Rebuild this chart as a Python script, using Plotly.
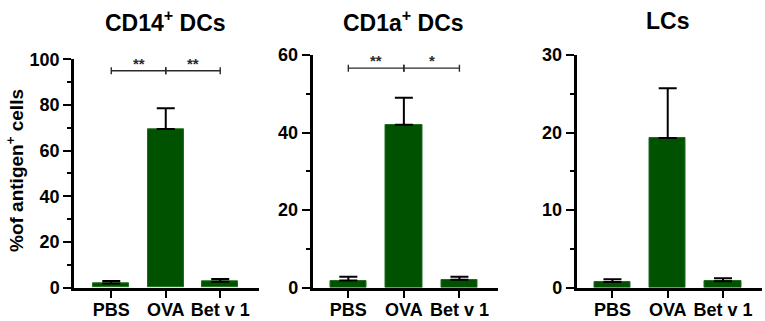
import plotly.graph_objects as go

W, H = 765, 321

categories = ["PBS", "OVA", "Bet v 1"]
panel_titles = ["CD14<sup>+</sup> DCs", "CD1a<sup>+</sup> DCs", "LCs"]

cd14_means = [1.8, 69.5, 2.5]
cd14_errs = [1.1, 9.0, 1.2]
cd1a_means = [1.8, 42.0, 2.0]
cd1a_errs = [1.0, 7.0, 0.8]
lc_means = [0.7, 19.3, 0.8]
lc_errs = [0.35, 6.4, 0.4]

y_max = [100, 60, 30]
y_dtick = [20, 20, 10]

# significance brackets: (panel, from_idx, to_idx, y, label)
sig_panel = [0, 0, 1, 1]
sig_from = [0, 1, 0, 1]
sig_to = [1, 2, 1, 2]
sig_y = [95, 95, 56.6, 56.6]
sig_label = ["**", "**", "**", "*"]

y_title = "%of antigen<sup>+</sup> cells"

means = [cd14_means, cd1a_means, lc_means]
errs = [cd14_errs, cd1a_errs, lc_errs]

# layout geometry (pixels)
x_px = [(74, 259.3), (312.5, 498.3), (576.5, 761.7)]
x_ranges = [(-0.684, 2.717), (-0.645, 2.70), (-0.65, 2.70)]
y_px = [(287.5, 59.3), (287.5, 55.0), (287.5, 55.0)]

BAR_FILL = "#005200"
BAR_LINE = "#1f6e1f"
FONT = "Liberation Sans"

fig = go.Figure()
xs = list(range(len(categories)))

for i in range(3):
    xa = "x" if i == 0 else f"x{i+1}"
    ya = "y" if i == 0 else f"y{i+1}"
    fig.add_trace(go.Bar(
        x=xs, y=means[i], xaxis=xa, yaxis=ya, width=0.66,
        marker=dict(color=BAR_FILL, line=dict(color=BAR_LINE, width=1)),
        error_y=dict(type="data", array=errs[i], arrayminus=[0] * 3, symmetric=False,
                     color="black", thickness=2, width=9),
        showlegend=False, hoverinfo="skip",
    ))

# brackets
for k in range(len(sig_panel)):
    p = sig_panel[k]
    xa = "x" if p == 0 else f"x{p+1}"
    ya = "y" if p == 0 else f"y{p+1}"
    tick = 3.5 * y_max[p] / (y_px[p][0] - y_px[p][1])
    a, b, yy = sig_from[k], sig_to[k], sig_y[k]
    fig.add_trace(go.Scatter(
        x=[a, a, None, a, b, None, b, b],
        y=[yy - tick, yy + tick, None, yy, yy, None, yy - tick, yy + tick],
        mode="lines", line=dict(color="#2a2a2a", width=1.4),
        xaxis=xa, yaxis=ya, showlegend=False, hoverinfo="skip", cliponaxis=False,
    ))
    fig.add_annotation(
        x=(a + b) / 2, y=yy, xref=xa, yref=ya, text=sig_label[k], showarrow=False,
        yanchor="bottom", yshift=-3, font=dict(family=FONT, size=15, color="#2a2a2a", weight="bold"),
    )

layout = {}
for i in range(3):
    xk = "xaxis" if i == 0 else f"xaxis{i+1}"
    yk = "yaxis" if i == 0 else f"yaxis{i+1}"
    ya = "y" if i == 0 else f"y{i+1}"
    xa = "x" if i == 0 else f"x{i+1}"
    layout[xk] = dict(
        domain=[x_px[i][0] / W, x_px[i][1] / W], range=list(x_ranges[i]), anchor=ya,
        tickvals=xs, ticktext=categories, showgrid=False, zeroline=False, automargin=False,
        showline=True, linecolor="black", linewidth=2.5,
        ticks="outside", ticklen=8, tickwidth=2, tickcolor="black", ticklabelstandoff=-4,
        tickfont=dict(family=FONT, size=18, color="black", weight="bold"),
    )
    layout[yk] = dict(
        domain=[(H - y_px[i][0]) / H, (H - y_px[i][1]) / H], range=[0, y_max[i]], anchor=xa,
        dtick=y_dtick[i], showgrid=False, zeroline=False, automargin=False,
        showline=True, linecolor="black", linewidth=2.5,
        ticks="outside", ticklen=8, tickwidth=2, tickcolor="black",
        minor=dict(dtick=y_dtick[i] / 2, ticks="outside", ticklen=4, tickwidth=2, tickcolor="black"),
        tickfont=dict(family=FONT, size=18, color="black", weight="bold"),
    )
    fig.add_annotation(
        x=1, y=(H - 21) / H, xref=xa, yref="paper", text=panel_titles[i], showarrow=False,
        yanchor="middle", font=dict(family=FONT, size=23, color="black", weight="bold"),
    )

fig.add_annotation(
    x=15 / W, y=(H - 171) / H, xref="paper", yref="paper", text=y_title, showarrow=False,
    textangle=-90, xanchor="center", yanchor="middle",
    font=dict(family=FONT, size=19, color="black", weight="bold"),
)

fig.update_layout(
    template="none",
    width=W, height=H, margin=dict(l=0, r=0, t=0, b=0, autoexpand=False),
    paper_bgcolor="white", plot_bgcolor="white", bargap=0, **layout,
)

fig.write_html("out.html", config={"displayModeBar": False},
               post_script="document.body.style.margin='0px';")
